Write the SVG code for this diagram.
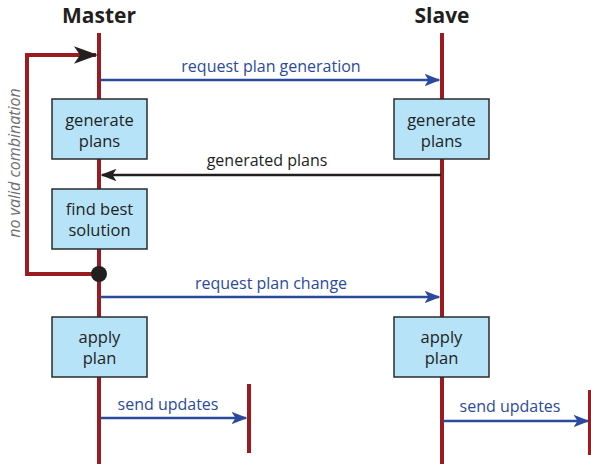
<svg xmlns="http://www.w3.org/2000/svg" width="591" height="464" viewBox="0 0 591 464">
  <style>
    .life { stroke: #9b1c20; stroke-width: 4; fill: none; }
    .box rect { fill: #b6e3f8; stroke: #2b2b2b; stroke-width: 1.5; }
    .box text { font-family: "Open Sans", "Noto Sans", sans-serif; font-size: 16.5px; fill: #231f20; text-anchor: middle; }
    .title { font-family: "Open Sans", "Noto Sans", sans-serif; font-size: 21px; font-weight: bold; fill: #231f20; text-anchor: middle; }
    .msg { stroke: #2b4a9e; stroke-width: 2.5; fill: none; }
    .msgb { stroke: #231f20; stroke-width: 2.5; fill: none; }
    .lbl { font-family: "Open Sans", "Noto Sans", sans-serif; font-size: 16px; fill: #2b4a9e; text-anchor: middle; }
    .lblb { font-family: "Open Sans", "Noto Sans", sans-serif; font-size: 16px; fill: #231f20; text-anchor: middle; }
    .note { font-family: "Open Sans", "Noto Sans", sans-serif; font-size: 16px; font-style: italic; fill: #6d6e71; text-anchor: middle; }
  </style>
  <defs>
    <marker id="headBlue" markerWidth="6.4" markerHeight="5" refX="5.8" refY="2.5" orient="auto" markerUnits="strokeWidth">
      <path d="M0,0 L6.4,2.5 L0,5 L1.6,2.5 Z" fill="#2b4a9e"/>
    </marker>
    <marker id="headBlack" markerWidth="6.4" markerHeight="5" refX="5.8" refY="2.5" orient="auto" markerUnits="strokeWidth">
      <path d="M0,0 L6.4,2.5 L0,5 L1.6,2.5 Z" fill="#231f20"/>
    </marker>
    <marker id="headLoop" markerWidth="6" markerHeight="4.4" refX="5.5" refY="2.2" orient="auto" markerUnits="strokeWidth">
      <path d="M0,0 L6,2.2 L0,4.4 L1.5,2.2 Z" fill="#231f20"/>
    </marker>
  </defs>

  <!-- participants -->
  <g id="master">
    <text class="title" x="99" y="23">Master</text>
    <line class="life" x1="99" y1="33" x2="99" y2="464"/>
  </g>
  <g id="slave">
    <text class="title" x="442" y="23">Slave</text>
    <line class="life" x1="442" y1="33" x2="442" y2="464"/>
  </g>
  <g id="master-updates-target">
    <line class="life" x1="249" y1="384" x2="249" y2="453"/>
  </g>
  <g id="slave-updates-target">
    <line class="life" x1="590" y1="390" x2="590" y2="455"/>
  </g>

  <!-- activity boxes -->
  <g id="master-generate" class="box">
    <rect x="52" y="99" width="95" height="60"/>
    <text x="99.5" y="126">generate</text>
    <text x="99.5" y="147">plans</text>
  </g>
  <g id="slave-generate" class="box">
    <rect x="394" y="99" width="95" height="60"/>
    <text x="441.5" y="126">generate</text>
    <text x="441.5" y="147">plans</text>
  </g>
  <g id="master-find-best" class="box">
    <rect x="52" y="189" width="95" height="60"/>
    <text x="99.5" y="215">find best</text>
    <text x="99.5" y="236">solution</text>
  </g>
  <g id="master-apply" class="box">
    <rect x="52" y="317" width="95" height="60"/>
    <text x="99.5" y="343">apply</text>
    <text x="99.5" y="364">plan</text>
  </g>
  <g id="slave-apply" class="box">
    <rect x="394" y="317" width="95" height="60"/>
    <text x="441.5" y="343">apply</text>
    <text x="441.5" y="364">plan</text>
  </g>

  <!-- connectors -->
  <g id="connectors">
    <path class="life" d="M99,274 H27 V55 H96" marker-end="url(#headLoop)"/>
    <circle cx="99" cy="274" r="8" fill="#231f20"/>
    <text class="note" transform="translate(20,163) rotate(-90)">no valid combination</text>

    <line class="msg" x1="101" y1="80" x2="439" y2="80" marker-end="url(#headBlue)"/>
    <text class="lbl" x="271" y="72">request plan generation</text>

    <line class="msgb" x1="441" y1="175" x2="102" y2="175" marker-end="url(#headBlack)"/>
    <text class="lblb" x="267" y="166">generated plans</text>

    <line class="msg" x1="101" y1="297" x2="439" y2="297" marker-end="url(#headBlue)"/>
    <text class="lbl" x="271" y="289">request plan change</text>

    <line class="msg" x1="101" y1="418" x2="246" y2="418" marker-end="url(#headBlue)"/>
    <text class="lbl" x="168" y="410">send updates</text>

    <line class="msg" x1="443" y1="421" x2="588" y2="421" marker-end="url(#headBlue)"/>
    <text class="lbl" x="510" y="412">send updates</text>
  </g>
</svg>
